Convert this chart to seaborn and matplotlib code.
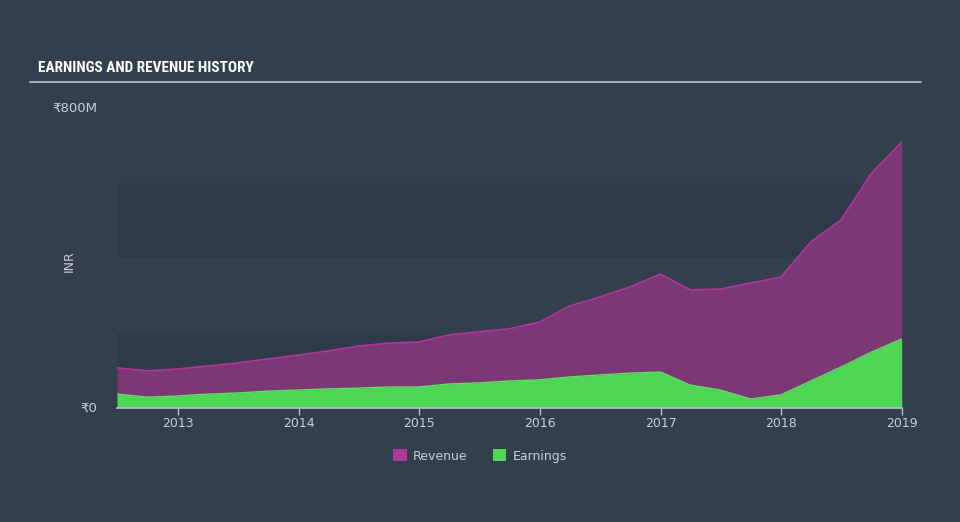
import numpy as np
import pandas as pd
import matplotlib
matplotlib.use("Agg")
import matplotlib.pyplot as plt
import matplotlib.dates as mdates
from matplotlib import font_manager as fm
from matplotlib.patches import Patch
import seaborn as sns

# ---- data (INR millions, quarterly) ----
dates = pd.date_range("2012-06-30", "2018-12-31", freq="QE")
revenue = [107, 99, 104, 112, 120, 131, 141, 152, 165, 173, 176, 195, 203, 211,
           229, 272, 296, 323, 357, 315, 317, 333, 349, 443, 501, 625, 709]
earnings = [37, 29, 32, 37, 40, 45, 48, 51, 53, 56, 56, 64, 67, 72,
            75, 83, 88, 93, 96, 61, 48, 24, 35, 72, 109, 149, 184]
year_ticks = [2013, 2014, 2015, 2016, 2017, 2018, 2019]
y_ticks = [0, 800]
y_tick_labels = ["₹0", "₹800M"]
title = "EARNINGS AND REVENUE HISTORY"
series_names = ["Revenue", "Earnings"]

df = pd.DataFrame({"date": dates, "Revenue": revenue, "Earnings": earnings})

BG = "#333f4d"
BAND = "#2e3a48"
REV_FILL = "#7b3874"
REV_LINE = "#b1369d"
EARN_FILL = "#4fd655"
EARN_LINE = "#5ee063"
TXT = "#c9ced4"

sns.set_theme(style="dark")
plt.rcParams["font.family"] = ["DejaVu Sans"]

names = sorted({f.name for f in fm.fontManager.ttflist})
def pick(cands):
    for c in cands:
        if c in names:
            return c
    return "DejaVu Sans"
narrow = pick(["Liberation Sans Narrow", "DejaVu Sans Condensed", "Roboto Condensed",
               "Open Sans Condensed", "Noto Sans Condensed"])

fig = plt.figure(figsize=(9.6, 5.22), dpi=100, facecolor=BG)
ax = fig.add_axes([117 / 960, 114 / 522, 785 / 960, 300 / 522])
ax.set_facecolor(BG)

# bands
ax.axhspan(0, 200, color=BAND, zorder=0, lw=0)
ax.axhspan(400, 600, color=BAND, zorder=0, lw=0)

ax.fill_between(df["date"], 0, df["Revenue"], color=REV_FILL, lw=0, zorder=2)
sns.lineplot(data=df, x="date", y="Revenue", color=REV_LINE, lw=1.2, ax=ax, zorder=3)
ax.fill_between(df["date"], 0, df["Earnings"], color=EARN_FILL, lw=0, zorder=4)
sns.lineplot(data=df, x="date", y="Earnings", color=EARN_LINE, lw=1.0, ax=ax, zorder=5)

ax.set_xlim(df["date"].iloc[0], df["date"].iloc[-1])
ax.set_ylim(0, 800)

ax.set_xticks([pd.Timestamp(f"{y}-01-01") for y in year_ticks])
ax.xaxis.set_major_formatter(mdates.DateFormatter("%Y"))
ax.set_yticks(y_ticks)
ax.set_yticklabels(y_tick_labels)
ax.tick_params(axis="x", colors="#b8bec6", labelsize=9, length=5, width=1, direction="out",
               bottom=True, pad=1.5, labelcolor=TXT)
ax.tick_params(axis="y", colors=TXT, labelsize=9.5, length=0, pad=14)
for lbl in ax.get_yticklabels():
    lbl.set_verticalalignment("center")

for s in ["top", "right", "left"]:
    ax.spines[s].set_visible(False)
ax.spines["bottom"].set_color("#b8bec6")
ax.spines["bottom"].set_linewidth(1.2)
ax.spines["bottom"].set_zorder(6)
ax.grid(False)

ax.set_xlabel("")
ax.set_ylabel("INR", color=TXT, fontsize=9)
ax.yaxis.set_label_coords(-0.052, 0.49)

# title and underline
fig.text(38 / 960, 1 - 68 / 522, title, color="white", fontsize=11, fontweight="bold",
         va="center", ha="left", family=[narrow, "DejaVu Sans"])
fig.add_artist(plt.Line2D([30 / 960, 921 / 960], [1 - 82 / 522, 1 - 82 / 522],
                          color="#b9bec4", lw=1.3, transform=fig.transFigure))

handles = [Patch(facecolor="#a83a98", edgecolor="none", label=series_names[0]),
           Patch(facecolor=EARN_FILL, edgecolor="none", label=series_names[1])]
leg = fig.legend(handles=handles, loc="center", bbox_to_anchor=(0.5, 1 - 456 / 522),
                 ncol=2, frameon=False, fontsize=9, handlelength=1.1, handleheight=1.1,
                 columnspacing=2.0, handletextpad=0.5)
for t in leg.get_texts():
    t.set_color(TXT)

fig.savefig("out.png", dpi=100, facecolor=BG)
